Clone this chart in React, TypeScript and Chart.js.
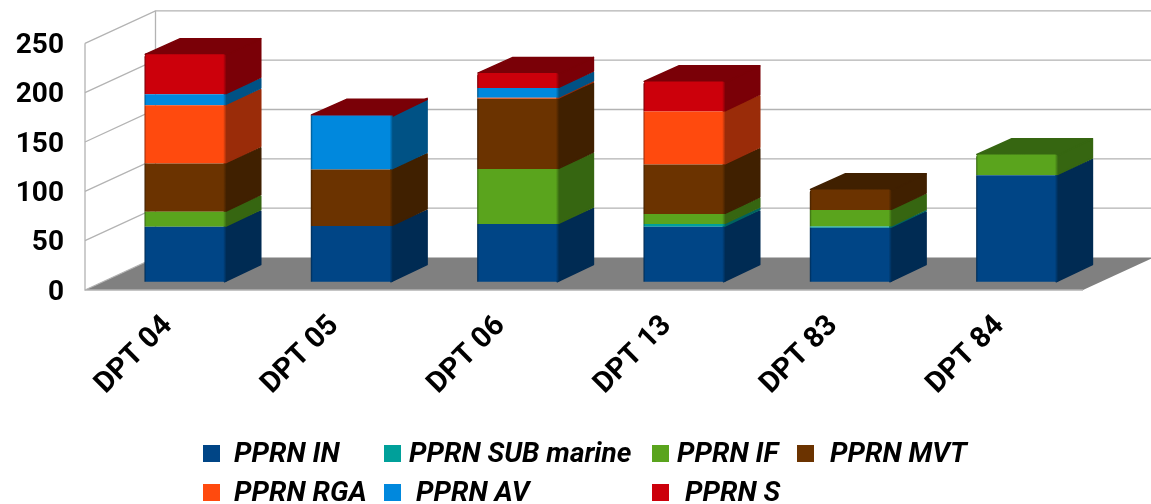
import React, { useEffect, useRef } from "react";
import { Chart, registerables } from "chart.js";

Chart.register(...registerables);

const categories = ["DPT 04", "DPT 05", "DPT 06", "DPT 13", "DPT 83", "DPT 84"];
const yTicks = [0, 50, 100, 150, 200, 250];

const seriesNames = ["PPRN IN", "PPRN SUB marine", "PPRN IF", "PPRN MVT", "PPRN RGA", "PPRN AV", "PPRN S"];
const pprnIn = [55.7, 56.4, 58.4, 55.7, 54.7, 108];
const pprnSub = [0, 0, 0, 2.7, 1.2, 0];
const pprnIf = [15.2, 0, 55.7, 10.1, 16.7, 21];
const pprnMvt = [49, 57.4, 71.3, 50.3, 20.9, 0];
const pprnRga = [59, 0, 1, 53.7, 0, 0];
const pprnAv = [11, 54.7, 9.8, 0, 0, 0];
const pprnS = [40.5, 0.4, 15.2, 30.4, 0, 0];
const seriesValues = [pprnIn, pprnSub, pprnIf, pprnMvt, pprnRga, pprnAv, pprnS];

const frontColors = ["#004586", "#00a09a", "#5aa41d", "#6b3300", "#ff4a0e", "#0088dd", "#cc000b"];
const sideColors = ["#002b53", "#006360", "#366611", "#402000", "#9a2c09", "#005285", "#7a0007"];

// Geometry of the drawing, separate from the data
const WALL_DX = 70.5;
const WALL_DY = -32.5;
const BAR_DX = 35;
const BAR_DY = -16.4;
const BAR_SHIFT_X = 17.3;
const BAR_SHIFT_Y = -8.3;
const BAR_WIDTH = 82;
const Y_LABEL_SHIFT = 2.8;

const legendLayout = [
  { marker: 203, text: 234, row: 0 },
  { marker: 384, text: 409, row: 0 },
  { marker: 652, text: 677, row: 0 },
  { marker: 797, text: 830, row: 0 },
  { marker: 203, text: 234, row: 1 },
  { marker: 384, text: 416, row: 1 },
  { marker: 652, text: 685, row: 1 },
];
const legendRowY = [453.5, 492.5];

const scenePlugin = {
  id: "scene3d",
  beforeDraw(chart: any) {
    // the value labels sit a little below their grid lines
    chart.scales.y.getLabelItems().forEach((item: any) => {
      if (item.shifted) return;
      item.shifted = true;
      item.options = {
        ...item.options,
        translation: [item.options.translation[0], item.options.translation[1] + Y_LABEL_SHIFT],
      };
    });
  },
  beforeDatasetsDraw(chart: any) {
    const { ctx, scales, chartArea } = chart;
    const y = scales.y;
    const left = chartArea.left;
    const right = chartArea.right;
    ctx.save();

    // floor
    const y0 = y.getPixelForValue(0);
    ctx.fillStyle = "#808080";
    ctx.beginPath();
    ctx.moveTo(left, y0);
    ctx.lineTo(left + WALL_DX, y0 + WALL_DY);
    ctx.lineTo(right + WALL_DX, y0 + WALL_DY);
    ctx.lineTo(right, y0);
    ctx.closePath();
    ctx.fill();

    // walls and grid
    ctx.strokeStyle = "#b3b3b3";
    ctx.lineWidth = 1.3;
    yTicks.forEach((t) => {
      const py = y.getPixelForValue(t);
      ctx.beginPath();
      ctx.moveTo(left, py);
      ctx.lineTo(left + WALL_DX, py + WALL_DY);
      if (t > 0) ctx.lineTo(right + WALL_DX, py + WALL_DY);
      ctx.stroke();
    });
    const yTop = y.getPixelForValue(250);
    ctx.beginPath();
    ctx.moveTo(left, yTop);
    ctx.lineTo(left, y0);
    ctx.lineTo(right, y0);
    ctx.moveTo(left + WALL_DX, yTop + WALL_DY);
    ctx.lineTo(left + WALL_DX, y0 + WALL_DY);
    ctx.stroke();

    // move the bars onto the floor and draw their side and top faces
    ctx.translate(BAR_SHIFT_X, BAR_SHIFT_Y);
    ctx.lineJoin = "round";
    ctx.lineWidth = 1.5;
    const topIndex: number[] = categories.map(() => -1);
    chart.data.datasets.forEach((ds: any, di: number) => {
      const meta = chart.getDatasetMeta(di);
      meta.data.forEach((bar: any, i: number) => {
        if (!ds.data[i]) return;
        topIndex[i] = di;
        const r = bar.x + bar.width / 2;
        ctx.fillStyle = sideColors[di];
        ctx.strokeStyle = sideColors[di];
        ctx.beginPath();
        ctx.moveTo(r - 2, bar.y);
        ctx.lineTo(r + BAR_DX - 0.7, bar.y + BAR_DY + 0.7);
        ctx.lineTo(r + BAR_DX - 0.7, bar.base + BAR_DY - 0.7);
        ctx.lineTo(r - 2, bar.base);
        ctx.closePath();
        ctx.fill();
        ctx.stroke();
      });
    });
    topIndex.forEach((di, i) => {
      if (di < 0) return;
      const bar = chart.getDatasetMeta(di).data[i];
      const l = bar.x - bar.width / 2;
      const r = bar.x + bar.width / 2;
      ctx.fillStyle = sideColors[di];
      ctx.strokeStyle = sideColors[di];
      ctx.beginPath();
      ctx.moveTo(l + 0.7, bar.y);
      ctx.lineTo(l + BAR_DX + 0.7, bar.y + BAR_DY + 0.7);
      ctx.lineTo(r + BAR_DX - 0.7, bar.y + BAR_DY + 0.7);
      ctx.lineTo(r - 2, bar.y + 2);
      ctx.closePath();
      ctx.fill();
      ctx.stroke();
    });
  },
  afterDatasetsDraw(chart: any) {
    chart.ctx.restore();
  },
  afterDraw(chart: any) {
    const { ctx } = chart;
    ctx.save();
    ctx.font = "italic bold 28px Roboto";
    ctx.textBaseline = "middle";
    ctx.textAlign = "left";
    seriesNames.forEach((name, i) => {
      const item = legendLayout[i];
      const cy = legendRowY[item.row];
      ctx.fillStyle = frontColors[i];
      ctx.fillRect(item.marker, cy - 8.5, 17, 17);
      ctx.fillStyle = "#000000";
      ctx.fillText(name, item.text, cy + 1);
    });
    ctx.restore();
  },
};

function faceFill(i: number) {
  return (c: any) => {
    const x = c.chart.scales?.x;
    if (!x || c.dataIndex === undefined) return frontColors[i];
    const mid = x.getPixelForValue(c.dataIndex);
    if (!Number.isFinite(mid)) return frontColors[i];
    const g = c.chart.ctx.createLinearGradient(mid - BAR_WIDTH / 2, 0, mid + BAR_WIDTH / 2, 0);
    g.addColorStop(0, sideColors[i]);
    g.addColorStop(0.025, frontColors[i]);
    g.addColorStop(0.96, frontColors[i]);
    g.addColorStop(1, sideColors[i]);
    return g;
  };
}

export default function App() {
  const ref = useRef<HTMLCanvasElement>(null);
  useEffect(() => {
    document.body.style.margin = "0";
    const chart = new Chart(ref.current as HTMLCanvasElement, {
      type: "bar",
      data: {
        labels: categories,
        datasets: seriesNames.map((name, i) => ({
          label: name,
          data: seriesValues[i],
          backgroundColor: faceFill(i),
          borderWidth: 0,
          borderRadius: 3,
          clip: false as any,
          barPercentage: 0.493,
          categoryPercentage: 1,
        })),
      },
      options: {
        responsive: false,
        animation: false,
        layout: { padding: { left: 0, right: 68, top: 43.3, bottom: 0 } },
        plugins: { legend: { display: false }, tooltip: { enabled: false }, title: { display: false } },
        scales: {
          x: {
            stacked: true,
            grid: { display: false },
            border: { display: false },
            afterFit: (s: any) => {
              s.height = 214;
            },
            ticks: {
              minRotation: 45,
              maxRotation: 45,
              color: "#000000",
              padding: 11,
              font: { family: "Roboto", weight: "bold", size: 29 },
            },
          },
          y: {
            stacked: true,
            min: 0,
            max: 250,
            grid: { display: false },
            border: { display: false },
            afterFit: (s: any) => {
              s.width = 85;
            },
            afterBuildTicks: (s: any) => {
              s.ticks = yTicks.map((value) => ({ value }));
            },
            ticks: {
              color: "#000000",
              padding: 13,
              font: { family: "Roboto", weight: "bold", size: 28 },
            },
          },
        },
      },
      plugins: [scenePlugin],
    } as any);
    return () => chart.destroy();
  }, []);
  return (
    <div style={{ width: 1151, height: 504, overflow: "hidden" }}>
      <canvas ref={ref} width={1151} height={504} style={{ display: "block", filter: "blur(0.45px)" }} />
    </div>
  );
}
